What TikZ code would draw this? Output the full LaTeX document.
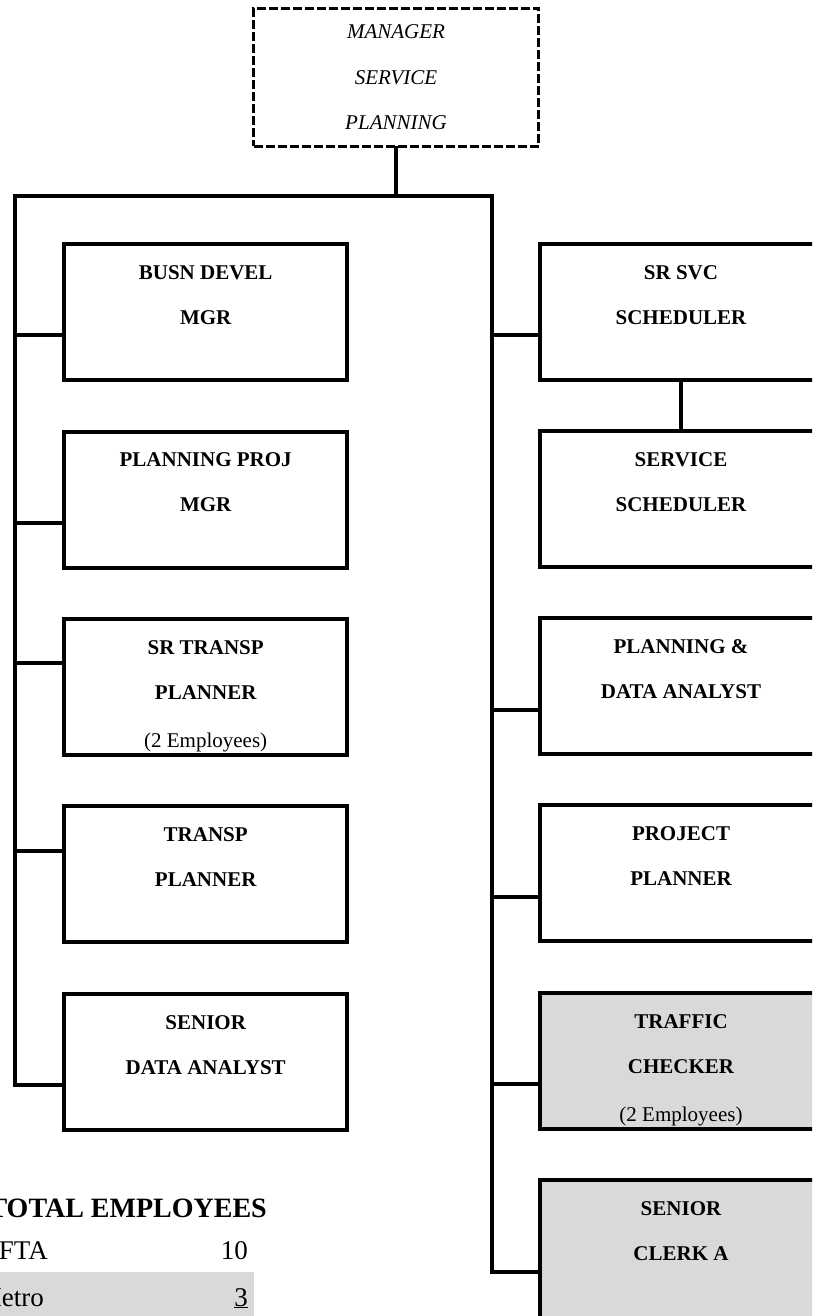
\documentclass[tikz,border=0pt]{standalone}
\usepackage{fontspec}
\setmainfont{Liberation Serif}
\usetikzlibrary{calc}
\definecolor{boxgray}{HTML}{D9D9D9}
\tikzset{
  rail/.style={line width=4pt, line cap=rect, line join=miter},
  postbox/.style={draw, line width=4pt, rectangle, minimum height=136pt, inner sep=0pt},
  leftbox/.style={postbox, minimum width=283.5pt},
  rightbox/.style={postbox, minimum width=282pt},
  grayed/.style={fill=boxgray},
  boxtext/.style={anchor=north, inner sep=0pt, align=center,
    font=\fontsize{21}{45}\selectfont\bfseries},
  headbox/.style={draw, dash pattern=on 9pt off 3pt, line width=3pt,
    minimum width=285pt, minimum height=138pt, inner sep=0pt, align=center,
    font=\fontsize{21}{45.5}\selectfont\itshape},
  tabtext/.style={inner sep=0pt, font=\fontsize{27}{27}\selectfont},
}
\begin{document}
\begin{tikzpicture}[x=1pt,y=-1pt]
\useasboundingbox (0,0) rectangle (812,1316);
\clip (0,0) rectangle (812,1316);

% head of the unit
\node[headbox] (mgr) at (396,77.5) {MANAGER\\SERVICE\\PLANNING};

% left column
\node[leftbox] (busn)  at (205.7,312)   {};
\node[leftbox] (pproj) at (205.7,499.5) {};
\node[leftbox] (srtp)  at (205.7,687)   {};
\node[leftbox] (tp)    at (205.7,874)   {};
\node[leftbox] (sda)   at (205.7,1062)  {};

% right column
\node[rightbox] (srsvc) at (681,312)  {};
\node[rightbox] (svc)   at (681,499)  {};
\node[rightbox] (pda)   at (681,686)  {};
\node[rightbox] (proj)  at (681,873)  {};
\node[rightbox, grayed] (traf) at (681,1061) {};
\node[rightbox, grayed, minimum height=160pt] (clerk) at (681,1260) {};

% titles
\node[boxtext] (busn-t)  at ($(busn.north)+(0,23)$)  {BUSN DEVEL\\MGR};
\node[boxtext] (pproj-t) at ($(pproj.north)+(0,23)$) {PLANNING PROJ\\MGR};
\node[boxtext] (srtp-t)  at ($(srtp.north)+(0,23)$)  {SR TRANSP\\PLANNER\\[3pt]{\mdseries (2 Employees)}};
\node[boxtext] (tp-t)    at ($(tp.north)+(0,23)$)    {TRANSP\\PLANNER};
\node[boxtext] (sda-t)   at ($(sda.north)+(0,23)$)   {SENIOR\\DATA ANALYST};
\node[boxtext] (srsvc-t) at ($(srsvc.north)+(0,23)$) {SR SVC\\SCHEDULER};
\node[boxtext] (svc-t)   at ($(svc.north)+(0,23)$)   {SERVICE\\SCHEDULER};
\node[boxtext] (pda-t)   at ($(pda.north)+(0,23)$)   {PLANNING \&\\DATA ANALYST};
\node[boxtext] (proj-t)  at ($(proj.north)+(0,23)$)  {PROJECT\\PLANNER};
\node[boxtext] (traf-t)  at ($(traf.north)+(0,23)$)  {TRAFFIC\\CHECKER\\[3pt]{\mdseries (2 Employees)}};
\node[boxtext] (clerk-t) at ($(clerk.north)+(0,23)$) {SENIOR\\CLERK A};

% reporting rails
\coordinate (L)    at (15,196);
\coordinate (R)    at (492,196);
\coordinate (Lend) at (15,1085);
\coordinate (Rend) at (492,1272);
\draw[rail] (mgr.south) -- (mgr.south |- L);
\draw[rail] (Lend) -- (L) -- (R) -- (Rend);

% branches to the left column
\coordinate (l1) at (15,335);
\coordinate (l2) at (15,523);
\coordinate (l3) at (15,663);
\coordinate (l4) at (15,851);
\draw[rail] (l1) -- (l1 -| busn.west);
\draw[rail] (l2) -- (l2 -| pproj.west);
\draw[rail] (l3) -- (l3 -| srtp.west);
\draw[rail] (l4) -- (l4 -| tp.west);
\draw[rail] (Lend) -- (Lend -| sda.west);

% branches to the right column
\coordinate (r1) at (492,335);
\coordinate (r2) at (492,710);
\coordinate (r3) at (492,897);
\coordinate (r4) at (492,1084);
\draw[rail] (r1) -- (r1 -| srsvc.west);
\draw[rail] (r2) -- (r2 -| pda.west);
\draw[rail] (r3) -- (r3 -| proj.west);
\draw[rail] (r4) -- (r4 -| traf.west);
\draw[rail] (Rend) -- (Rend -| clerk.west);
\draw[rail] (srsvc.south) -- (svc.north);

% staffing totals
\fill[boxgray] (0,1272) rectangle (254,1316);
\node[anchor=base east, inner sep=0pt, font=\fontsize{28}{28}\selectfont\bfseries] (tot) at (267,1217) {TOTAL EMPLOYEES};
\node[tabtext, anchor=base east] (fta)    at (48,1259)  {FTA};
\node[tabtext, anchor=base east] (fta-n)  at (248,1259) {10};
\node[tabtext, anchor=base east] (metro)  at (44,1306)  {Metro};
\node[tabtext, anchor=base east] (metro-n) at (248,1306) {\underline{3}};
\end{tikzpicture}
\end{document}
